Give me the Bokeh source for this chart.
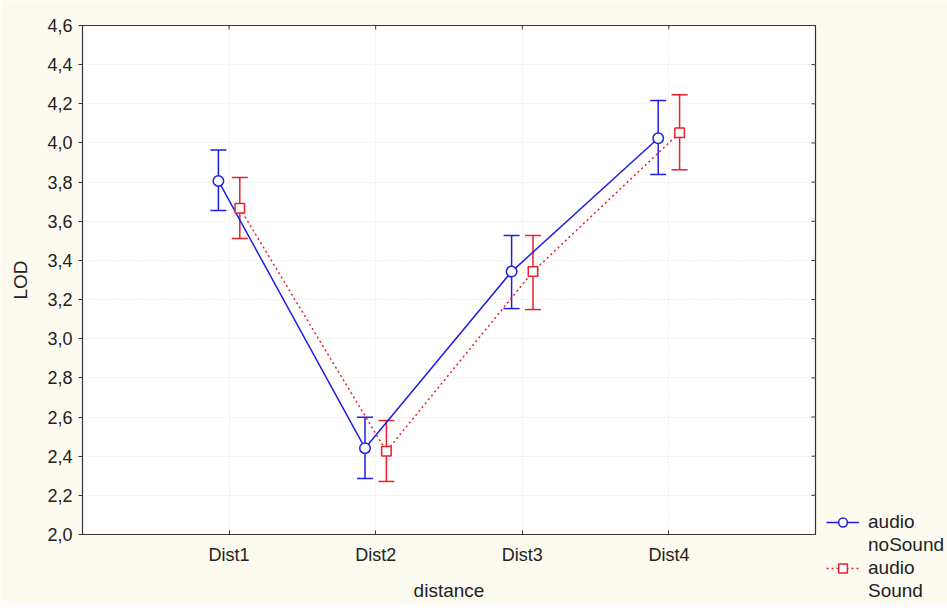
import math
from bokeh.plotting import figure
from bokeh.models import (FixedTicker, Range1d, ColumnDataSource, Whisker, TeeHead,
                          Legend, LegendItem)
from bokeh.embed import file_html
from bokeh.resources import INLINE

# ---- data ----
categories = ["Dist1", "Dist2", "Dist3", "Dist4"]
nosound_mean = [3.806, 2.441, 3.343, 4.024]
nosound_low = [3.655, 2.286, 3.154, 3.839]
nosound_high = [3.964, 2.599, 3.527, 4.217]
sound_mean = [3.667, 2.425, 3.343, 4.052]
sound_low = [3.512, 2.271, 3.149, 3.863]
sound_high = [3.823, 2.582, 3.527, 4.246]
y_ticks = [2.0, 2.2, 2.4, 2.6, 2.8, 3.0, 3.2, 3.4, 3.6, 3.8, 4.0, 4.2, 4.4, 4.6]
y_tick_labels = ["2,0", "2,2", "2,4", "2,6", "2,8", "3,0", "3,2", "3,4", "3,6",
                 "3,8", "4,0", "4,2", "4,4", "4,6"]
series_names = ["audio", "noSound", "audio", "Sound"]

BLUE = "#1e1ee6"
RED = "#e8202a"
BG = "#fdfbf0"
FONT = "Liberation Sans"
TXT = "#222222"
EDGE = "#333333"

x_pos = [i + 1 for i in range(len(categories))]
dodge = 0.073

src_n = ColumnDataSource(dict(x=[v - dodge for v in x_pos], y=nosound_mean,
                              lo=nosound_low, hi=nosound_high))
src_s = ColumnDataSource(dict(x=[v + dodge for v in x_pos], y=sound_mean,
                              lo=sound_low, hi=sound_high))

xr = Range1d(0, 5)
yr = Range1d(2.0, 4.6)
p = figure(frame_width=733, frame_height=509, x_range=xr, y_range=yr,
           output_backend="svg", toolbar_location=None,
           min_border_left=82, min_border_right=130, min_border_top=25, min_border_bottom=70,
           background_fill_color="white", border_fill_color=BG,
           outline_line_color=EDGE, outline_line_width=1.2)

xt = FixedTicker(ticks=x_pos, minor_ticks=[])
yt = FixedTicker(ticks=y_ticks, minor_ticks=[])

# grids
p.xgrid.ticker = xt
p.ygrid.ticker = yt
for g in (p.xgrid, p.ygrid):
    g.grid_line_color = "#e2e2e2"
    g.grid_line_dash = "1 2"
    g.grid_line_width = 1

# bottom axis
xa = p.xaxis[0]
xa.ticker = xt
xa.major_label_overrides = {x: c for x, c in zip(x_pos, categories)}
xa.axis_label = "distance"
xa.major_tick_in = 4
xa.major_tick_out = 0
xa.major_label_standoff = 10
xa.axis_label_standoff = 12

# left axis
ya = p.yaxis[0]
ya.ticker = yt
ya.major_label_overrides = {t: l for t, l in zip(y_ticks, y_tick_labels)}
ya.axis_label = "LOD"
ya.major_tick_in = 0
ya.major_tick_out = 4
ya.major_label_standoff = 6
ya.axis_label_standoff = 13

for ax in (xa, ya):
    ax.axis_line_color = EDGE
    ax.major_tick_line_color = EDGE
    ax.minor_tick_line_color = None
    ax.major_label_text_font = FONT
    ax.major_label_text_font_size = "18px"
    ax.major_label_text_color = TXT
    ax.axis_label_text_font = FONT
    ax.axis_label_text_font_size = "19px"
    ax.axis_label_text_font_style = "normal"
    ax.axis_label_text_color = TXT

# inward tick marks on the top and right frame edges
p.ray(x=[xr.end] * len(y_ticks), y=y_ticks, length=4, length_units="screen",
      angle=math.pi, line_color=EDGE, line_width=1)
p.ray(x=x_pos, y=[yr.end] * len(x_pos), length=4, length_units="screen",
      angle=-math.pi / 2, line_color=EDGE, line_width=1)

# error bars
for src, col in ((src_n, BLUE), (src_s, RED)):
    p.add_layout(Whisker(source=src, base="x", upper="hi", lower="lo",
                         line_color=col, line_width=1.5,
                         upper_head=TeeHead(size=16, line_color=col, line_width=1.5),
                         lower_head=TeeHead(size=16, line_color=col, line_width=1.5)))

# lines and markers
ln_n = p.line("x", "y", source=src_n, line_color=BLUE, line_width=1.5)
ln_s = p.line("x", "y", source=src_s, line_color=RED, line_width=1.5, line_dash="2 3")
mk_n = p.scatter("x", "y", source=src_n, marker="circle", size=10.5,
                 fill_color="white", line_color=BLUE, line_width=1.5)
mk_s = p.scatter("x", "y", source=src_s, marker="square", size=9.5,
                 fill_color="white", line_color=RED, line_width=1.5)

dummy = p.line(x=[], y=[], line_alpha=0)

legend = Legend(items=[
    LegendItem(label=series_names[0], renderers=[ln_n, mk_n]),
    LegendItem(label=series_names[1], renderers=[dummy]),
    LegendItem(label=series_names[2], renderers=[ln_s, mk_s]),
    LegendItem(label=series_names[3], renderers=[dummy]),
], location=(11, -68), orientation="vertical",
    background_fill_alpha=0, border_line_color=None, padding=0, margin=0,
    spacing=1, label_height=22, glyph_height=22, glyph_width=33, label_standoff=9,
    label_text_font=FONT, label_text_font_size="19px", label_text_color=TXT)
p.add_layout(legend, "right")

open("out.html", "w").write(file_html(p, INLINE))
